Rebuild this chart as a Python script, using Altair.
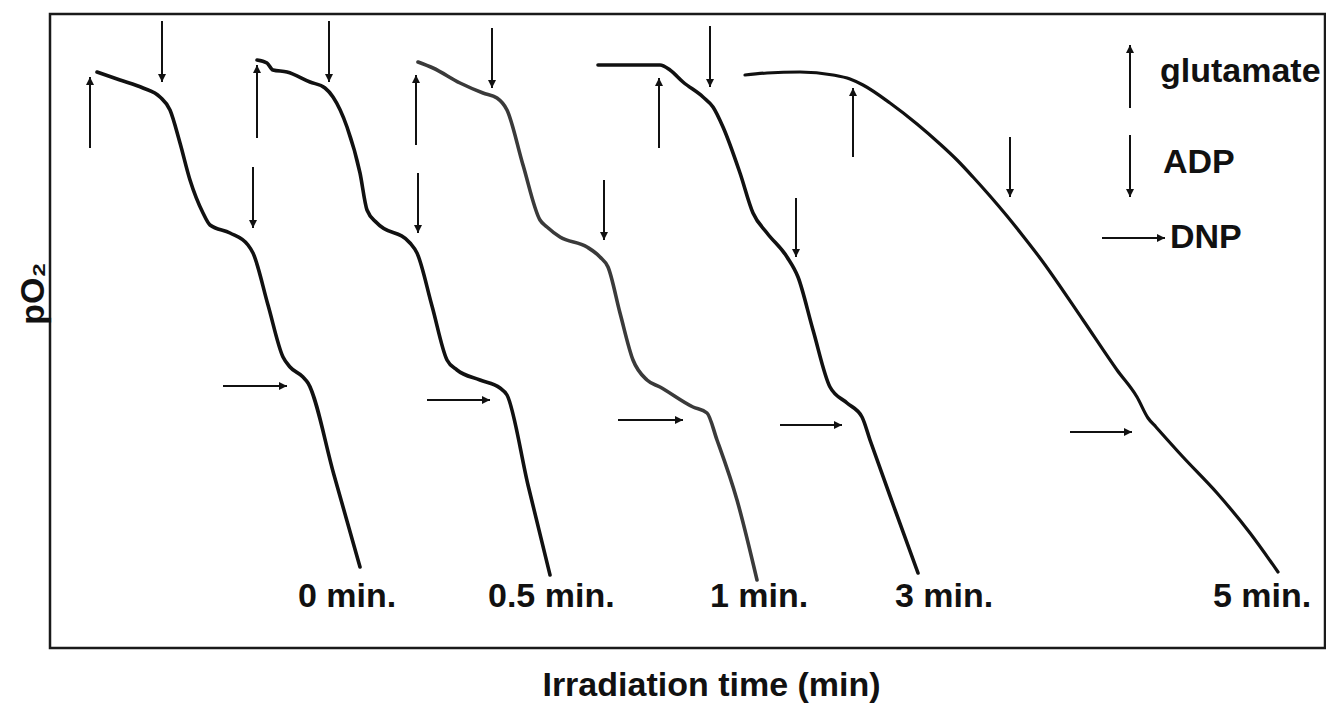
import altair as alt
import pandas as pd

# ---- traces (time in arbitrary units, pO2 in arbitrary units) ----
t0_time = [47, 70, 93, 110, 120, 130, 140, 153, 160, 180, 198, 203, 218, 233, 240, 253, 258, 284, 310]
t0_po2 = [576, 568, 560, 551, 538, 505, 468, 435, 423, 415, 403, 395, 343, 291, 281, 271, 265, 173, 81]

t05_time = [207, 217, 223, 237, 260, 275, 283, 297, 310, 317, 327, 360, 367, 382, 397, 407, 430, 450, 457, 478, 500]
t05_po2 = [588, 585, 578, 576, 566, 560, 551, 521, 475, 438, 425, 405, 395, 342, 288, 278, 268, 260, 253, 163, 73]

t1_time = [368, 383, 410, 433, 447, 457, 473, 490, 497, 510, 537, 550, 558, 570, 583, 597, 610, 643, 657, 667, 687, 707]
t1_po2 = [586, 580, 565, 555, 550, 538, 483, 428, 421, 411, 401, 391, 381, 335, 288, 268, 261, 241, 235, 208, 148, 68]

t3_time = [548, 610, 620, 633, 653, 663, 673, 690, 703, 717, 737, 748, 763, 780, 797, 812, 820, 844, 868]
t3_po2 = [583, 583, 578, 566, 551, 541, 521, 475, 435, 415, 391, 371, 318, 261, 245, 231, 208, 141, 75]

t5_time = [695, 717, 750, 783, 800, 813, 840, 867, 890, 907, 923, 940, 957, 973, 990, 1033, 1067, 1087, 1098, 1106, 1133, 1167, 1200, 1228]
t5_po2 = [573, 575, 576, 573, 569, 563, 545, 524, 504, 488, 471, 452, 432, 412, 390, 328, 278, 251, 230, 221, 191, 155, 115, 76]

trace_names = ["0 min.", "0.5 min.", "1 min.", "3 min.", "5 min."]
trace_times = [t0_time, t05_time, t1_time, t3_time, t5_time]
trace_po2s = [t0_po2, t05_po2, t1_po2, t3_po2, t5_po2]
trace_colors = ["#111111", "#111111", "#3a3a3a", "#111111", "#111111"]
trace_widths = [3.6, 3.6, 3.6, 3.6, 3.2]

# label positions (left edge time, baseline pO2)
label_time = [248, 438, 660, 845, 1163]
label_po2 = [41, 41, 41, 41, 41]

# ---- additions ----
# glutamate (upward arrows): time, base, tip
glu_time = [40, 207, 366, 609, 803, 1080]
glu_base = [500, 510, 503, 500, 491, 540]
glu_tip = [571, 583, 573, 570, 560, 603]

# ADP (downward arrows): time, start, tip
adp_time = [112, 279, 442, 660, 960, 203, 368, 554, 746, 1080]
adp_start = [627, 627, 620, 622, 511, 481, 475, 468, 450, 513]
adp_tip = [566, 566, 560, 561, 451, 420, 415, 408, 391, 451]

# DNP (rightward arrows): pO2 level, start, tip
dnp_po2 = [262, 248, 228, 223, 216, 410]
dnp_start = [173, 377, 568, 730, 1020, 1052]
dnp_tip = [237, 440, 633, 792, 1082, 1115]

# legend texts
legend_text = ["glutamate", "ADP", "DNP"]
legend_time = [1110, 1113, 1120]
legend_po2 = [566, 475, 400]

rows = []
for name, ts, ps, w in zip(trace_names, trace_times, trace_po2s, trace_widths):
    for i, (t, p) in enumerate(zip(ts, ps)):
        rows.append({"trace": name, "time": t, "po2": p, "i": i, "w": w})
traces = pd.DataFrame(rows)

labels = pd.DataFrame({"text": trace_names, "time": label_time, "po2": label_po2})
glu = pd.DataFrame({"time": glu_time, "base": glu_base, "tip": glu_tip})
adp = pd.DataFrame({"time": adp_time, "start": adp_start, "tip": adp_tip})
dnp = pd.DataFrame({"po2": dnp_po2, "start": dnp_start, "tip": dnp_tip})
leg = pd.DataFrame({"text": legend_text, "time": legend_time, "po2": legend_po2})

W, H = 1275, 634
xs = alt.Scale(domain=[0, 1275], nice=False, zero=False)
ys = alt.Scale(domain=[0, 634], nice=False, zero=False)
FONT = "Liberation Sans, Arial, DejaVu Sans, sans-serif"
TXT = "#111111"

X = lambda f: alt.X(f, type="quantitative", scale=xs,
                    axis=alt.Axis(title="Irradiation time (min)", labels=False, ticks=False,
                                  domain=False, grid=False, titleFontSize=34,
                                  titleFont=FONT, titleFontWeight="bold", titleColor=TXT,
                                  titleX=661, titleY=47, titleBaseline="alphabetic"))
Y = lambda f: alt.Y(f, type="quantitative", scale=ys,
                    axis=alt.Axis(title="pO₂", labels=False, ticks=False, domain=False,
                                  grid=False, titleFontSize=34, titleFont=FONT,
                                  titleFontWeight="bold", titleColor=TXT,
                                  titleAngle=270, titleX=-7, titleY=279,
                                  titleBaseline="alphabetic", titleAlign="center"))

lines = alt.Chart(traces).mark_line(interpolate="monotone",
                                    strokeCap="round", strokeJoin="round").encode(
    x=X("time"), y=Y("po2"),
    color=alt.Color("trace:N", scale=alt.Scale(domain=trace_names, range=trace_colors), legend=None),
    strokeWidth=alt.StrokeWidth("w:Q", scale=None, legend=None),
    detail="trace:N", order="i:Q")

txt = alt.Chart(labels).mark_text(align="left", baseline="alphabetic", fontSize=34,
                                  fontWeight="bold", font=FONT, color=TXT).encode(
    x=X("time"), y=Y("po2"), text="text:N")

legtxt = alt.Chart(leg).mark_text(align="left", baseline="alphabetic", fontSize=34,
                                  fontWeight="bold", font=FONT, color=TXT).encode(
    x=X("time"), y=Y("po2"), text="text:N")

ARW = "#111111"
glu_shaft = alt.Chart(glu).mark_rule(strokeWidth=2, color=ARW).encode(
    x=X("time"), y=Y("base"), y2="tip")
glu_head = alt.Chart(glu).mark_point(shape="M0,0L-0.5,1L0.5,1Z", filled=True, size=256,
                                     opacity=1, color=ARW, strokeWidth=0).encode(
    x=X("time"), y=Y("tip"))

adp_shaft = alt.Chart(adp).mark_rule(strokeWidth=2, color=ARW).encode(
    x=X("time"), y=Y("start"), y2="tip")
adp_head = alt.Chart(adp).mark_point(shape="M0,0L-0.5,-1L0.5,-1Z", filled=True, size=256,
                                     opacity=1, color=ARW, strokeWidth=0).encode(
    x=X("time"), y=Y("tip"))

dnp_shaft = alt.Chart(dnp).mark_rule(strokeWidth=2, color=ARW).encode(
    x=X("start"), x2="tip", y=Y("po2"))
dnp_head = alt.Chart(dnp).mark_point(shape="M0,0L-1,-0.5L-1,0.5Z", filled=True, size=256,
                                     opacity=1, color=ARW, strokeWidth=0).encode(
    x=X("tip"), y=Y("po2"))

chart = alt.layer(lines, glu_shaft, glu_head, adp_shaft, adp_head, dnp_shaft, dnp_head,
                  txt, legtxt).properties(
    width=W, height=H,
    autosize=alt.AutoSizeParams(type="none"),
    padding={"left": 42, "top": 6, "right": 1, "bottom": 56},
    background="white",
).configure_view(stroke="#1a1a1a", strokeWidth=2.5)

chart.save("out.html", embed_options={"renderer": "svg", "actions": False})
